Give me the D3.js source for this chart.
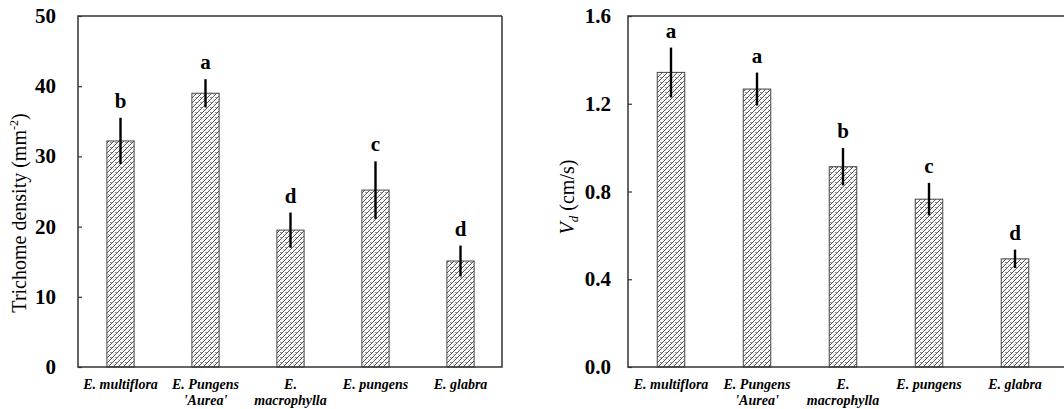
<!DOCTYPE html>
<html>
<head>
<meta charset="utf-8">
<script src="https://cdn.jsdelivr.net/npm/d3@7"></script>
<style>
  html, body { margin: 0; padding: 0; background: #fff; }
  svg { display: block; }
</style>
</head>
<body>
<svg id="chart" width="1064" height="409"></svg>
<script>
// ---- data ----
const categories = [["E. multiflora"], ["E. Pungens", "'Aurea'"], ["E.", "macrophylla"], ["E. pungens"], ["E. glabra"]];
const densityValues = [32.2, 39.0, 19.5, 25.2, 15.1];
const densityErrors = [3.3, 2.0, 2.5, 4.1, 2.2];
const densityLetters = ["b", "a", "d", "c", "d"];
const densityTicks = [0, 10, 20, 30, 40, 50];

const vdValues = [1.343, 1.267, 0.913, 0.765, 0.493];
const vdErrors = [0.113, 0.075, 0.085, 0.074, 0.042];
const vdLetters = ["a", "a", "b", "c", "d"];
const vdTicks = [0.0, 0.4, 0.8, 1.2, 1.6];

const svg = d3.select("#chart");
const FONT = "'Liberation Serif', 'Times New Roman', serif";

// hatch pattern
const defs = svg.append("defs");
const pat = defs.append("pattern")
  .attr("id", "hatch").attr("patternUnits", "userSpaceOnUse")
  .attr("width", 5).attr("height", 5);
pat.append("rect").attr("width", 5).attr("height", 5).attr("fill", "#fff");
pat.append("path").attr("d", "M-1,6 L6,-1 M-1,1 L1,-1 M4,6 L6,4")
  .attr("stroke", "#555").attr("stroke-width", 1);
pat.append("path").attr("d", "M0,2.5 L1.8,2.5 M3,5 L4.5,5")
  .attr("stroke", "#777").attr("stroke-width", 0.8);

function panel(opts) {
  const {x0, x1, frameRight, y0, y1, values, errors, letters, ticks, maxV, fmt} = opts;
  const g = svg.append("g");
  const x = d3.scaleBand().domain(d3.range(values.length)).range([x0, x1]).paddingInner(0.68).paddingOuter(0.34);
  const y = d3.scaleLinear().domain([0, maxV]).range([y1, y0]);

  // bars
  g.selectAll("rect.bar").data(values).join("rect")
    .attr("class", "bar")
    .attr("x", (d, i) => x(i))
    .attr("width", x.bandwidth())
    .attr("y", d => y(d))
    .attr("height", d => y(0) - y(d))
    .attr("fill", "url(#hatch)")
    .attr("stroke", "#444").attr("stroke-width", 1);

  // error bars
  g.selectAll("line.err").data(values).join("line")
    .attr("class", "err")
    .attr("x1", (d, i) => x(i) + x.bandwidth() / 2)
    .attr("x2", (d, i) => x(i) + x.bandwidth() / 2)
    .attr("y1", (d, i) => y(d + errors[i]))
    .attr("y2", (d, i) => y(d - errors[i]))
    .attr("stroke", "#000").attr("stroke-width", 2.4);

  // letters
  g.selectAll("text.sig").data(values).join("text")
    .attr("class", "sig")
    .attr("x", (d, i) => x(i) + x.bandwidth() / 2)
    .attr("y", (d, i) => y(d + errors[i]) - 10)
    .attr("text-anchor", "middle")
    .attr("font-family", FONT).attr("font-weight", "bold").attr("font-size", 21)
    .text((d, i) => letters[i]);

  // frame
  g.append("path")
    .attr("d", `M${frameRight},${y0} L${x0},${y0} L${x0},${y1} L${frameRight},${y1}` + (frameRight < 1064 ? ` L${frameRight},${y0}` : ""))
    .attr("fill", "none").attr("stroke", "#333").attr("stroke-width", 1.5);

  // y axis ticks (inward) and labels
  const ax = g.append("g").attr("transform", `translate(${x0},0)`)
    .call(d3.axisRight(y).tickValues(ticks).tickSize(4).tickFormat(""));
  ax.select(".domain").remove();
  ax.selectAll(".tick line").attr("stroke", "#333").attr("stroke-width", 1.2);

  g.selectAll("text.ytick").data(ticks).join("text")
    .attr("class", "ytick")
    .attr("x", opts.tickLabelX)
    .attr("y", d => y(d) + 7)
    .attr("text-anchor", "end")
    .attr("font-family", FONT).attr("font-weight", "bold").attr("font-size", 21)
    .text(d => fmt(d));

  // category labels
  const cl = g.selectAll("text.cat").data(categories).join("text")
    .attr("class", "cat")
    .attr("x", (d, i) => x(i) + x.bandwidth() / 2)
    .attr("y", 389)
    .attr("text-anchor", "middle")
    .attr("font-family", FONT).attr("font-weight", "bold").attr("font-style", "italic").attr("font-size", 14);
  cl.each(function(d) {
    const t = d3.select(this);
    d.forEach((line, j) => {
      t.append("tspan").attr("x", t.attr("x")).attr("dy", j === 0 ? 0 : 16).text(line);
    });
  });
  return g;
}

panel({x0: 78, x1: 503, frameRight: 502, y0: 16, y1: 367, values: densityValues, errors: densityErrors,
  letters: densityLetters, ticks: densityTicks, maxV: 50, fmt: d3.format("d"), tickLabelX: 56});

panel({x0: 628, x1: 1058, frameRight: 1080, y0: 16, y1: 367, values: vdValues, errors: vdErrors,
  letters: vdLetters, ticks: vdTicks, maxV: 1.6, fmt: d3.format(".1f"), tickLabelX: 611});

// y titles
svg.append("text")
  .attr("transform", "translate(26,213) rotate(-90)")
  .attr("text-anchor", "middle")
  .attr("font-family", FONT).attr("font-size", 20)
  .html("Trichome density (mm<tspan dy='-8' font-size='12'>-2</tspan><tspan dy='8'>)</tspan>");

const vt = svg.append("text")
  .attr("transform", "translate(574,197) rotate(-90)")
  .attr("text-anchor", "middle")
  .attr("font-family", FONT).attr("font-size", 20);
vt.append("tspan").attr("font-style", "italic").text("V");
vt.append("tspan").attr("font-style", "italic").attr("font-size", 13).attr("dy", 4).text("d");
vt.append("tspan").attr("dy", -4).text(" (cm/s)");
</script>
</body>
</html>
